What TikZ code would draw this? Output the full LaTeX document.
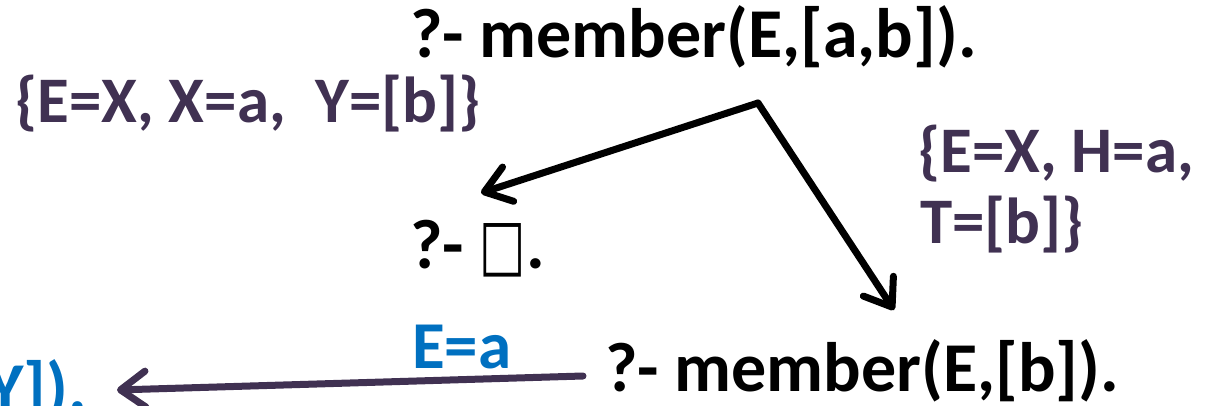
\documentclass[tikz,border=0pt]{standalone}
\usepackage{fontspec}
\setmainfont{Carlito}
\newfontfamily\boxfont[FakeStretch=0.7]{DejaVu Sans}
\usetikzlibrary{arrows.meta}
\definecolor{plum}{HTML}{403152}
\definecolor{azure}{HTML}{0070C0}

\begin{document}
\begin{tikzpicture}[x=1pt,y=-1pt,
  goal/.style={inner sep=0pt, anchor=base west, font=\fontsize{70}{84}\selectfont\bfseries},
  subst/.style={inner sep=0pt, anchor=base west, text=plum, font=\fontsize{65}{78}\selectfont\bfseries},
  bind/.style={inner sep=0pt, anchor=base west, text=azure, font=\fontsize{67}{80}\selectfont\bfseries},
  arr/.style={line width=7pt, line cap=round, line join=round,
              -{Straight Barb[length=25pt,width=36pt,round]}}
]
\useasboundingbox (0,0) rectangle (1206,406);
\clip (0,0) rectangle (1206,406);

% goals of the resolution tree
\node[goal] (root) at (410,58) {?- member(E,[a,b]).};
\node[goal] (empty) at (410,268) {?- {\boxfont □}.};
\node[goal] (rest) at (605,391) {?- member(E,[b]).};
\node[goal, text=azure, anchor=base east] (next) at (87,411) {Y]).};

% substitutions
\node[subst] (s1) at (15,123) {\{E=X, X=a,~ Y=[b]\}};
\node[subst] (s2a) at (918,173) {\{E=X, H=a,};
\node[subst] (s2b) at (920,243) {T=[b]\}};
\node[bind] (b1) at (412,368) {E=a};

% branches
\coordinate (fork) at (758,103);
\coordinate (leftend) at (481,193);
\coordinate (rightend) at (894,310);
\coordinate (backstart) at (583,376);
\coordinate (backend) at (117,390);
\draw[arr] (fork) -- (leftend);
\draw[arr] (fork) -- (rightend);
\draw[arr, draw=plum] (backstart) -- (backend);
\end{tikzpicture}
\end{document}
